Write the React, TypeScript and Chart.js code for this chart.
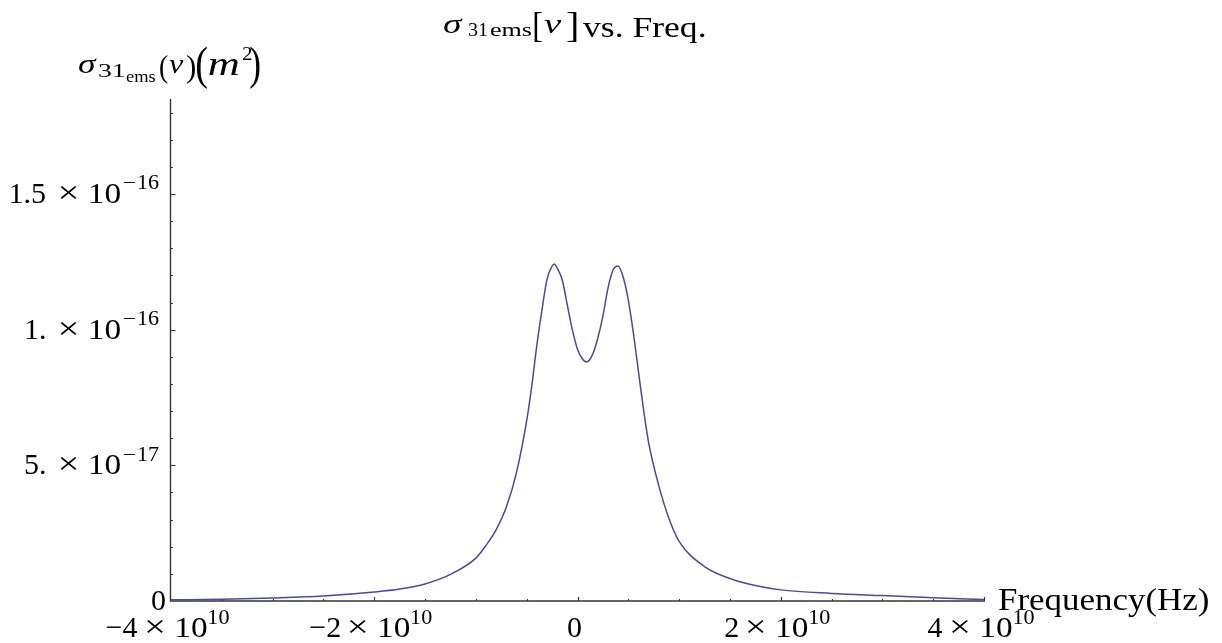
import { useEffect, useRef } from "react";
import { Chart, registerables } from "chart.js";

Chart.register(...registerables);

// ---- data ----
const frequencyHz = [
  -4.0e10, -3.5e10, -3.0e10, -2.5e10, -2.0e10, -1.75e10, -1.5e10, -1.25e10, -1.0e10, -0.9e10,
  -0.8e10, -0.7e10, -0.6e10, -0.5e10, -0.45e10, -0.4e10, -0.35e10, -0.3e10, -0.25e10, -0.227e10,
  -0.2e10, -0.15e10, -0.1e10, -0.05e10, 0, 0.05e10, 0.09e10, 0.15e10, 0.2e10, 0.25e10,
  0.3e10, 0.35e10, 0.4e10, 0.45e10, 0.5e10, 0.55e10, 0.6e10, 0.65e10, 0.7e10, 0.8e10,
  0.9e10, 1.0e10, 1.25e10, 1.5e10, 1.75e10, 2.0e10, 2.5e10, 3.0e10, 3.5e10, 4.0e10,
];
const sigmaEms = [
  0.44e-18, 0.6e-18, 1.1e-18, 1.85e-18, 3.3e-18, 4.4e-18, 6.3e-18, 9.8e-18, 15.8e-18, 20.5e-18,
  26.3e-18, 34.6e-18, 47.4e-18, 66.5e-18, 79.2e-18, 94.3e-18, 107.2e-18, 118.5e-18, 123.4e-18, 124.2e-18,
  122.7e-18, 118.3e-18, 109e-18, 99.8e-18, 92.8e-18, 89.1e-18, 88.1e-18, 91e-18, 96.9e-18, 105e-18,
  115.3e-18, 122e-18, 123.5e-18, 119.3e-18, 110.9e-18, 98.7e-18, 84.5e-18, 70.5e-18, 58.4e-18, 42.5e-18,
  30.4e-18, 22.0e-18, 12.7e-18, 8.3e-18, 5.7e-18, 4.1e-18, 2.8e-18, 2.0e-18, 1.2e-18, 0.55e-18,
];

const xMin = -4e10;
const xMax = 4e10;
const yMin = 0;
const yMax = 1.85e-16;

const xTickValues = [-4e10, -2e10, 0, 2e10, 4e10];
const xTickMantissas = ["\u22124", "\u22122", "0", "2", "4"];
const xTickExponents = ["10", "10", "", "10", "10"];
const xMinorStep = 0.5e10;

const yTickValues = [0, 5e-17, 1e-16, 1.5e-16];
const yTickMantissas = ["0", "5.", "1.", "1.5"];
const yTickExponents = ["", "\u221217", "\u221216", "\u221216"];
const yMinorStep = 1e-17;

const SERIF = '"Liberation Serif", "Times New Roman", serif';
const LINE_COLOR = "rgb(72,72,168)";

function fnt(size: number, italic = false) {
  return `${italic ? "italic " : ""}${size}px ${SERIF}`;
}

function ink(ctx: CanvasRenderingContext2D, text: string, size: number, italic = false) {
  ctx.font = fnt(size, italic);
  const m = ctx.measureText(text);
  return { left: m.actualBoundingBoxLeft, width: m.actualBoundingBoxLeft + m.actualBoundingBoxRight };
}

// draws text so that its ink spans x0..x1
function fitText(
  ctx: CanvasRenderingContext2D,
  text: string,
  x0: number,
  x1: number,
  baseline: number,
  size: number,
  italic = false
) {
  const m = ink(ctx, text, size, italic);
  const sx = (x1 - x0) / m.width;
  ctx.save();
  ctx.translate(x0, baseline);
  ctx.scale(sx, 1);
  ctx.textAlign = "left";
  ctx.textBaseline = "alphabetic";
  ctx.fillText(text, m.left, 0);
  ctx.restore();
}

function drawSci(
  ctx: CanvasRenderingContext2D,
  mant: string,
  exp: string,
  anchor: number,
  align: "right" | "center",
  B: number,
  gapMant: number,
  gapExp: number
) {
  const pieces: { text: string; size: number; w: number; gap: number; dy: number }[] = [];
  pieces.push({ text: mant, size: 30, w: ink(ctx, mant, 30).width, gap: 0, dy: 0 });
  if (exp !== "") {
    pieces.push({ text: "\u00d7", size: 32, w: 17, gap: gapMant, dy: 0 });
    pieces.push({ text: "10", size: 30, w: 30, gap: 13, dy: 0 });
    let digits = exp;
    let g = gapExp;
    if (exp.startsWith("\u2212")) {
      pieces.push({ text: "\u2212", size: 20, w: 12, gap: g, dy: -13.5 });
      digits = exp.slice(1);
      g = 2;
    }
    pieces.push({ text: digits, size: 20, w: 21, gap: g, dy: -13.5 });
  }
  const total = pieces.reduce((s, p) => s + p.gap + p.w, 0);
  let x = align === "right" ? anchor - total : anchor - total / 2;
  for (const p of pieces) {
    x += p.gap;
    fitText(ctx, p.text, x, x + p.w, B + p.dy, p.size);
    x += p.w;
  }
}

const decorPlugin = {
  id: "mathematicaDecor",
  beforeDatasetsDraw(chart: any) {
    const ctx: CanvasRenderingContext2D = chart.ctx;
    const xs = chart.scales.x;
    const ys = chart.scales.y;
    const ax = xs.getPixelForValue(xMin) - 0.5;
    const ay = ys.getPixelForValue(0);
    const top = ys.getPixelForValue(yMax);
    const right = xs.getPixelForValue(xMax) + 1;
    ctx.save();
    ctx.strokeStyle = "#333";
    ctx.lineWidth = 1.4;
    ctx.beginPath();
    ctx.moveTo(ax, top);
    ctx.lineTo(ax, ay + 0.7);
    ctx.moveTo(ax - 0.7, ay);
    ctx.lineTo(right, ay);
    ctx.stroke();
    ctx.lineWidth = 1.1;
    ctx.beginPath();
    // y ticks (pointing right)
    for (let v = yMinorStep; v <= yMax + 1e-30; v += yMinorStep) {
      const major = yTickValues.some((t) => Math.abs(t - v) < yMinorStep / 10);
      const py = Math.round(ys.getPixelForValue(v)) + 0.5;
      ctx.moveTo(ax, py);
      ctx.lineTo(ax + (major ? 5 : 2.5), py);
    }
    // x ticks (pointing up)
    for (let v = xMin + xMinorStep; v <= xMax + 1; v += xMinorStep) {
      const major = xTickValues.some((t) => Math.abs(t - v) < xMinorStep / 10);
      const px = Math.round(xs.getPixelForValue(v)) + 0.5;
      ctx.moveTo(px, ay);
      ctx.lineTo(px, ay - (major ? 4 : 2));
    }
    ctx.stroke();
    ctx.restore();
  },
  afterDraw(chart: any) {
    const ctx: CanvasRenderingContext2D = chart.ctx;
    const xs = chart.scales.x;
    const ys = chart.scales.y;
    const ax = xs.getPixelForValue(xMin);
    const ay = ys.getPixelForValue(0);
    ctx.save();
    ctx.fillStyle = "#000";

    // y tick labels
    yTickValues.forEach((v, i) => {
      const py = ys.getPixelForValue(v);
      if (yTickExponents[i] === "") {
        drawSci(ctx, yTickMantissas[i], "", ax - 6, "right", py + 9, 0, 0);
      } else {
        drawSci(ctx, yTickMantissas[i], yTickExponents[i], ax - 12, "right", py + 9, 15, 4);
      }
    });
    // x tick labels
    xTickValues.forEach((v, i) => {
      const px = xs.getPixelForValue(v);
      drawSci(ctx, xTickMantissas[i], xTickExponents[i], px - 3, "center", ay + 36, 9, 2);
    });

    // title: σ_{31 ems}[ν] vs. Freq.
    fitText(ctx, "\u03c3", 443, 463, 33, 28, true);
    fitText(ctx, "31", 468, 487, 36, 18);
    fitText(ctx, "ems", 490, 532, 36, 18);
    fitText(ctx, "[", 534, 542, 37, 36);
    fitText(ctx, "\u03bd", 544, 562, 33, 28, true);
    fitText(ctx, "]", 567, 577, 37, 36);
    fitText(ctx, "vs. Freq.", 583, 705, 37, 29);

    // y axis label: σ_{31 ems}(ν)(m²)
    fitText(ctx, "\u03c3", 78, 97, 73, 28, true);
    fitText(ctx, "31", 98, 125, 77, 19);
    fitText(ctx, "ems", 126, 155, 82, 17);
    fitText(ctx, "(", 160, 168, 77, 31);
    fitText(ctx, "\u03bd", 169, 184, 73, 28, true);
    fitText(ctx, ")", 187, 195, 77, 31);
    fitText(ctx, "(", 197, 207, 79, 46);
    fitText(ctx, "m", 209, 239, 75, 34, true);
    fitText(ctx, "2", 242, 252, 60, 19);
    fitText(ctx, ")", 250, 260, 79, 46);

    // x axis label
    fitText(ctx, "Frequency(Hz)", 998, 1208, 610, 31);
    ctx.restore();
  },
};

export default function App() {
  const canvasRef = useRef<HTMLCanvasElement | null>(null);

  useEffect(() => {
    const canvas = canvasRef.current;
    if (!canvas) return;
    const points = frequencyHz.map((f, i) => ({ x: f, y: sigmaEms[i] }));
    const chart = new Chart(canvas, {
      type: "line",
      data: {
        datasets: [
          {
            data: points,
            borderColor: LINE_COLOR,
            borderWidth: 1.5,
            pointRadius: 0,
            fill: false,
            cubicInterpolationMode: "monotone",
          },
        ],
      },
      options: {
        animation: false,
        responsive: false,
        devicePixelRatio: 1,
        layout: { padding: { left: 171, right: 238, top: 99, bottom: 42 } },
        plugins: { legend: { display: false }, tooltip: { enabled: false }, title: { display: false } },
        scales: {
          x: { type: "linear", min: xMin, max: xMax, display: false },
          y: { type: "linear", min: yMin, max: yMax, display: false },
        },
      },
      plugins: [decorPlugin],
    } as any);
    return () => chart.destroy();
  }, []);

  return (
    <div style={{ position: "fixed", left: 0, top: 0, width: 1222, height: 643, background: "#fff" }}>
      <canvas ref={canvasRef} width={1222} height={643} style={{ display: "block" }} />
    </div>
  );
}
